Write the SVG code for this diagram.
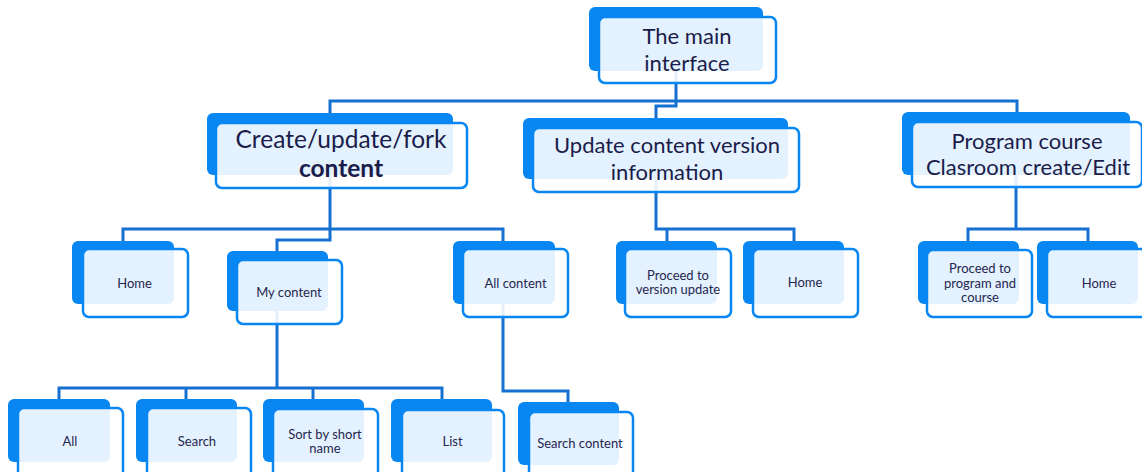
<svg xmlns="http://www.w3.org/2000/svg" width="1142" height="472" viewBox="0 0 1142 472">
<style>
.bg{fill:#ffffff}
.back{fill:#0886f2}
.front{fill:#ffffff;fill-opacity:0.89;stroke:#0886f2;stroke-width:2.5}
.conn path{fill:none;stroke:#1570d2;stroke-width:3}
.big{font-family:Lato,"Noto Sans",sans-serif;font-size:22px;fill:#1c1c4a;text-anchor:middle}
.larger{font-size:24.5px}
.bold{font-weight:bold}
.small{font-family:Lato,"Noto Sans",sans-serif;font-size:13px;fill:#262650;text-anchor:middle}
</style>
<rect class="bg" x="0" y="0" width="1142" height="472"/>
<g id="connectors" class="conn">
<path d="M676,50 V106 H656 V120"/>
<path d="M330,140 V101 H1017 V140"/>
<path d="M330,150 V240 H277 V256"/>
<path d="M123,246 V229 H503 V246"/>
<path d="M503,290 V391 H568 V406"/>
<path d="M277,290 V388"/>
<path d="M59,404 V388 H442 V404"/>
<path d="M186,388 V404"/>
<path d="M313,388 V404"/>
<path d="M656,160 V229 H794 V246"/>
<path d="M667,229 V246"/>
<path d="M1016,150 V229"/>
<path d="M968,246 V229 H1088 V246"/>
</g>
<g id="main">
<rect class="back" x="589" y="7" width="174" height="64" rx="6"/>
<rect class="front" x="599" y="17" width="177" height="66" rx="6"/>
<text class="big" x="687" y="44">The main</text>
<text class="big" x="687" y="71">interface</text>
</g>
<g id="create">
<rect class="back" x="207" y="113" width="246" height="62" rx="6"/>
<rect class="front" x="216" y="123" width="251" height="65" rx="6"/>
<text class="big larger" x="341" y="148">Create/update/fork</text>
<text class="big larger bold" x="341" y="177">content</text>
</g>
<g id="update">
<rect class="back" x="523" y="118" width="265" height="61" rx="6"/>
<rect class="front" x="533" y="128" width="266" height="64" rx="6"/>
<text class="big" x="667" y="153">Update content version</text>
<text class="big" x="667" y="180">information</text>
</g>
<g id="program">
<rect class="back" x="902" y="112" width="228" height="63" rx="6"/>
<rect class="front" x="912" y="122" width="230" height="65" rx="6"/>
<text class="big" x="1027" y="149">Program course</text>
<text class="big" x="1028" y="175">Clasroom create/Edit</text>
</g>
<g id="home1">
<rect class="back" x="72" y="241" width="102" height="63" rx="6"/>
<rect class="front" x="83" y="249" width="105" height="68" rx="6"/>
<text class="small" x="134.5" y="288">Home</text>
</g>
<g id="mycontent">
<rect class="back" x="227" y="251" width="101" height="60" rx="6"/>
<rect class="front" x="237" y="260" width="105" height="64" rx="6"/>
<text class="small" x="289" y="297">My content</text>
</g>
<g id="allcontent">
<rect class="back" x="453" y="241" width="102" height="63" rx="6"/>
<rect class="front" x="463" y="249" width="105" height="68" rx="6"/>
<text class="small" x="515.5" y="288">All content</text>
</g>
<g id="proceed-version">
<rect class="back" x="616" y="241" width="101" height="63" rx="6"/>
<rect class="front" x="625" y="249" width="106" height="68" rx="6"/>
<text class="small" x="678" y="280">Proceed  to</text>
<text class="small" x="678" y="294">version update</text>
</g>
<g id="home2">
<rect class="back" x="743" y="241" width="101" height="63" rx="6"/>
<rect class="front" x="753" y="249" width="105" height="68" rx="6"/>
<text class="small" x="805" y="287">Home</text>
</g>
<g id="proceed-program">
<rect class="back" x="918" y="241" width="101" height="63" rx="6"/>
<rect class="front" x="927" y="250" width="105" height="67" rx="6"/>
<text class="small" x="980" y="273">Proceed to</text>
<text class="small" x="980" y="288">program and</text>
<text class="small" x="980" y="302">course</text>
</g>
<g id="home3">
<rect class="back" x="1037" y="241" width="101" height="63" rx="6"/>
<rect class="front" x="1047" y="249" width="105" height="68" rx="6"/>
<text class="small" x="1099" y="288">Home</text>
</g>
<g id="all">
<rect class="back" x="8" y="399" width="102" height="63" rx="6"/>
<rect class="front" x="18" y="408" width="105" height="70" rx="6"/>
<text class="small" x="70" y="446">All</text>
</g>
<g id="search">
<rect class="back" x="136" y="399" width="101" height="63" rx="6"/>
<rect class="front" x="147" y="408" width="104" height="70" rx="6"/>
<text class="small" x="197" y="446">Search</text>
</g>
<g id="sort">
<rect class="back" x="263" y="399" width="101" height="63" rx="6"/>
<rect class="front" x="273" y="409" width="105" height="70" rx="6"/>
<text class="small" x="325" y="439">Sort by short</text>
<text class="small" x="325" y="453">name</text>
</g>
<g id="list">
<rect class="back" x="391" y="399" width="101" height="63" rx="6"/>
<rect class="front" x="402" y="410" width="102" height="68" rx="6"/>
<text class="small" x="452.5" y="446">List</text>
</g>
<g id="searchcontent">
<rect class="back" x="518" y="402" width="101" height="63" rx="6"/>
<rect class="front" x="529" y="412" width="104" height="68" rx="6"/>
<text class="small" x="580" y="448">Search content</text>
</g>
</svg>
